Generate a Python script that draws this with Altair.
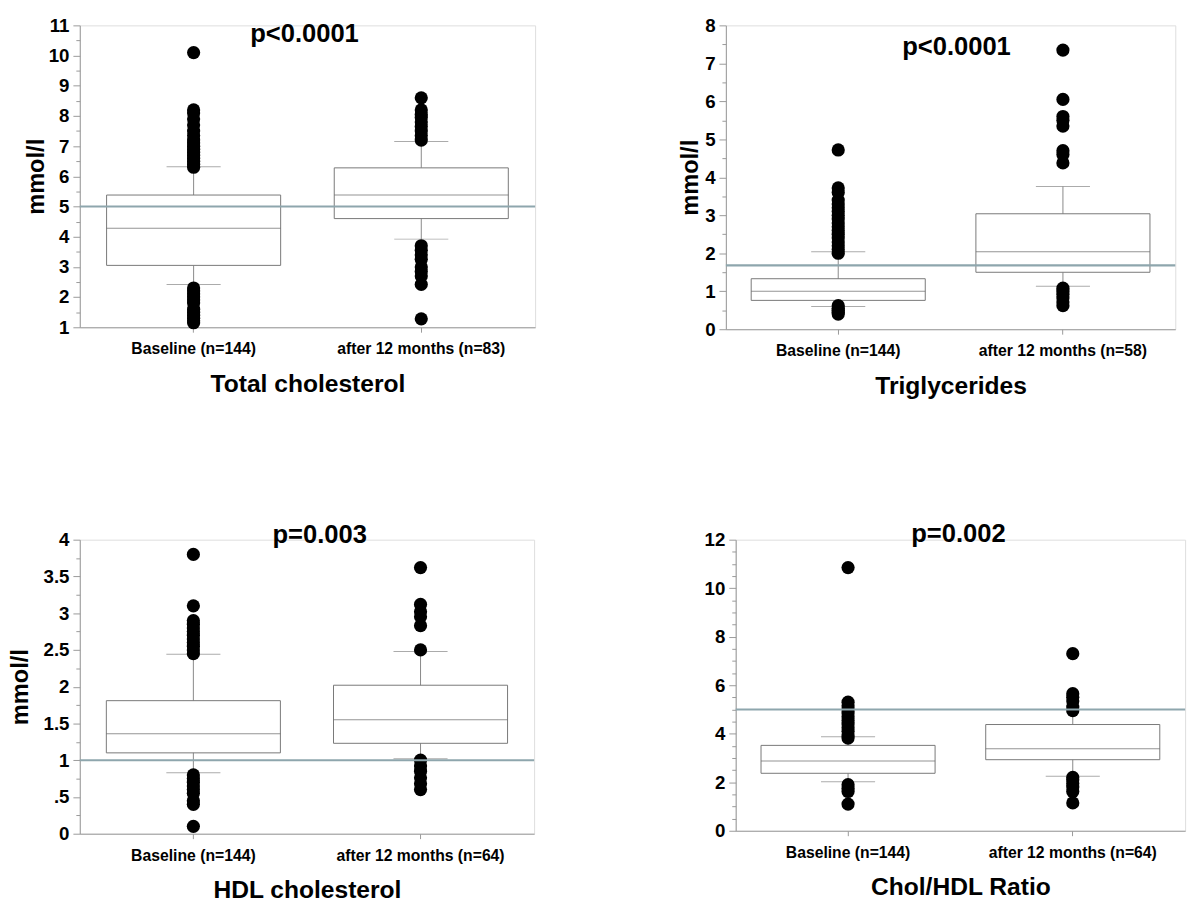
import altair as alt
import pandas as pd

FONT = "Liberation Sans"
GROUPS_TC = ["Baseline (n=144)", "after 12 months (n=83)"]
GROUPS_TG = ["Baseline (n=144)", "after 12 months (n=58)"]
GROUPS_HDL = ["Baseline (n=144)", "after 12 months (n=64)"]
GROUPS_RAT = ["Baseline (n=144)", "after 12 months (n=64)"]

# box statistics: [q1, median, q3, lower whisker, upper whisker]
tc_base = [3.05, 4.28, 5.38, 2.42, 6.32]
tc_after = [4.6, 5.38, 6.28, 3.92, 7.15]
tc_base_out = [1.15, 1.22, 1.3, 1.4, 1.5, 1.6, 1.8, 1.9, 2.0, 2.1, 2.2, 2.3,
               6.3, 6.4, 6.5, 6.6, 6.7, 6.8, 6.9, 7.0, 7.1, 7.2, 7.35, 7.5, 7.7, 7.9, 8.1, 8.2, 10.1]
tc_after_out = [1.28, 2.42, 2.7, 2.85, 3.0, 3.25, 3.4, 3.55, 3.7,
                7.2, 7.35, 7.5, 7.65, 7.8, 7.95, 8.05, 8.2, 8.6]

tg_base = [0.76, 1.0, 1.33, 0.6, 2.04]
tg_after = [1.5, 2.04, 3.04, 1.13, 3.76]
tg_base_out = [0.4, 0.45, 0.5, 0.55, 0.62, 2.0, 2.1, 2.2, 2.3, 2.4, 2.5, 2.6, 2.7, 2.8,
               2.9, 3.0, 3.1, 3.2, 3.3, 3.4, 3.6, 3.72, 4.72]
tg_after_out = [0.62, 0.72, 0.82, 0.92, 1.0, 1.08, 4.38, 4.6, 4.7, 5.35, 5.5, 5.6, 6.05, 7.35]

hdl_base = [1.1, 1.36, 1.81, 0.83, 2.44]
hdl_after = [1.23, 1.55, 2.02, 1.02, 2.48]
hdl_base_out = [0.1, 0.4, 0.45, 0.55, 0.6, 0.65, 0.7, 0.75, 0.8, 2.45, 2.5, 2.55, 2.6, 2.65,
                2.7, 2.75, 2.8, 2.85, 2.9, 3.1, 3.8]
hdl_after_out = [0.6, 0.68, 0.76, 0.85, 0.92, 1.0, 2.5, 2.83, 2.95, 3.02, 3.12, 3.62]

rat_base = [2.37, 2.88, 3.52, 2.02, 3.88]
rat_after = [2.93, 3.38, 4.38, 2.25, 4.95]
rat_base_out = [1.1, 1.62, 1.75, 1.9, 3.82, 3.95, 4.1, 4.25, 4.4, 4.55, 4.7, 4.85, 5.0,
                5.15, 5.3, 10.85]
rat_after_out = [1.15, 1.62, 1.8, 1.95, 2.1, 2.2, 4.95, 5.1, 5.35, 5.5, 5.65, 7.3]

# which upper caps are drawn
tc_caps = [True, True]
tg_caps = [True, True]
hdl_caps = [True, True]
rat_caps = [True, False]

# y-axis tick positions (majors carry labels, minors are short unlabeled ticks)
tc_ticks = [1 + 0.5 * i for i in range(21)]
tg_ticks = [0.5 * i for i in range(17)]
hdl_ticks = [0.25 * i for i in range(17)]
rat_ticks = [0.5 * i for i in range(25)]

ref_values = [5.0, 1.68, 1.0, 5.0]
p_texts = ["p<0.0001", "p<0.0001", "p=0.003", "p=0.002"]
titles = ["Total cholesterol", "Triglycerides", "HDL cholesterol", "Chol/HDL Ratio"]

BOX_W = 177
CAP_W = 55
REF_COLOR = "#8ea6ad"


def panel(groups, base, after, base_out, after_out, caps, ref, ptext, title,
          domain, ticks, major_test, label_expr, width, height, ytitle, p_y, p_dx, ytpad):
    stats = pd.DataFrame({
        "g": groups,
        "q1": [base[0], after[0]], "med": [base[1], after[1]], "q3": [base[2], after[2]],
        "wlo": [base[3], after[3]], "whi": [base[4], after[4]],
    })
    caps_lo = stats[["g", "wlo"]].rename(columns={"wlo": "v"})
    caps_hi = stats[["g", "whi"]].rename(columns={"whi": "v"})[caps]
    cap_df = pd.concat([caps_lo, caps_hi])
    out_df = pd.DataFrame({
        "g": [groups[0]] * len(base_out) + [groups[1]] * len(after_out),
        "v": base_out + after_out,
    })
    ref_df = pd.DataFrame({"v": [ref]})

    xenc = alt.X("g:N", sort=groups, scale=alt.Scale(paddingInner=0, paddingOuter=0),
                 axis=alt.Axis(title=title, labelAngle=0, labelFont=FONT, labelFontSize=16,
                               labelFontWeight="bold", labelColor="#000", labelPadding=9,
                               tickSize=5, tickColor="#999", domainColor="#999",
                               titleFont=FONT, titleFontSize=25, titleFontWeight="bold",
                               titleColor="#000", titlePadding=15))
    yscale = alt.Scale(domain=domain, nice=False, zero=False)
    yaxis = alt.Axis(values=ticks, labelExpr=label_expr, labelOverlap=False, labelFlush=False,
                     tickSize={"condition": {"test": major_test, "value": 7}, "value": 4},
                     tickColor="#999", domainColor="#999", grid=False,
                     labelFont=FONT, labelFontSize=19, labelFontWeight="bold",
                     labelColor="#000", labelPadding=4,
                     title=ytitle if ytitle else None,
                     titleFont=FONT, titleFontSize=24, titleFontWeight="bold",
                     titleColor="#000", titlePadding=ytpad)

    base_chart = alt.Chart(stats)
    whisk = base_chart.mark_rule(color="#888", strokeWidth=1).encode(
        x=xenc, y=alt.Y("wlo:Q", scale=yscale, axis=yaxis), y2="whi:Q")
    cap = alt.Chart(cap_df).mark_tick(color="#888", size=CAP_W, thickness=1).encode(
        x=alt.X("g:N", sort=groups), y=alt.Y("v:Q", axis=yaxis))
    box = base_chart.mark_bar(size=BOX_W, fill="white", stroke="#777", strokeWidth=1).encode(
        x=alt.X("g:N", sort=groups), y=alt.Y("q1:Q", axis=yaxis), y2="q3:Q")
    med = base_chart.mark_tick(color="#666", size=BOX_W, thickness=1).encode(
        x=alt.X("g:N", sort=groups), y=alt.Y("med:Q", axis=yaxis))
    dots = alt.Chart(out_df).mark_circle(size=180, color="black", opacity=1).encode(
        x=alt.X("g:N", sort=groups), y=alt.Y("v:Q", axis=yaxis))
    refl = alt.Chart(ref_df).mark_rule(color=REF_COLOR, strokeWidth=2.2).encode(
        y=alt.Y("v:Q", axis=yaxis))
    ptxt = alt.Chart(ref_df).mark_text(font=FONT, fontSize=26, fontWeight="bold",
                                        color="#000", baseline="middle").encode(
        x=alt.value(width / 2 + p_dx), y=alt.value(p_y), text=alt.value(ptext))
    return alt.layer(whisk, cap, box, med, dots, refl, ptxt).properties(
        width=width, height=height)


p1 = panel(GROUPS_TC, tc_base, tc_after, tc_base_out, tc_after_out, tc_caps, ref_values[0],
           p_texts[0], titles[0], [1, 11], tc_ticks,
           "datum.value % 1 === 0", "datum.value % 1 === 0 ? format(datum.value, 'd') : ''",
           463, 307, "mmol/l", 9, -3, 0)
p2 = panel(GROUPS_TG, tg_base, tg_after, tg_base_out, tg_after_out, tg_caps, ref_values[1],
           p_texts[1], titles[1], [0, 8], tg_ticks,
           "datum.value % 1 === 0", "datum.value % 1 === 0 ? format(datum.value, 'd') : ''",
           457, 309, "mmol/l", 22, 6, 2)
p3 = panel(GROUPS_HDL, hdl_base, hdl_after, hdl_base_out, hdl_after_out, hdl_caps, ref_values[2],
           p_texts[2], titles[2], [0, 4], hdl_ticks,
           "datum.value % 0.5 === 0",
           "datum.value % 0.5 === 0 ? (datum.value === 0.5 ? '.5' : format(datum.value, '')) : ''",
           462, 299, "mmol/l", -5, 13, 11)
p4 = panel(GROUPS_RAT, rat_base, rat_after, rat_base_out, rat_after_out, rat_caps, ref_values[3],
           p_texts[3], titles[3], [0, 12], rat_ticks,
           "datum.value % 2 === 0", "datum.value % 2 === 0 ? format(datum.value, 'd') : ''",
           457, 296, None, -6, -2, 6)

chart = alt.vconcat(
    alt.hconcat(p1, p2, spacing=143),
    alt.hconcat(p3, p4, spacing=170),
    spacing=123,
).configure_view(stroke=None).configure(
    font=FONT, padding={"left": 0, "top": 0, "right": 5, "bottom": 5}
).configure_axisY(labelOverlap=False, labelFlush=False)

chart.save("out.html", embed_options={"renderer": "svg", "actions": False})
